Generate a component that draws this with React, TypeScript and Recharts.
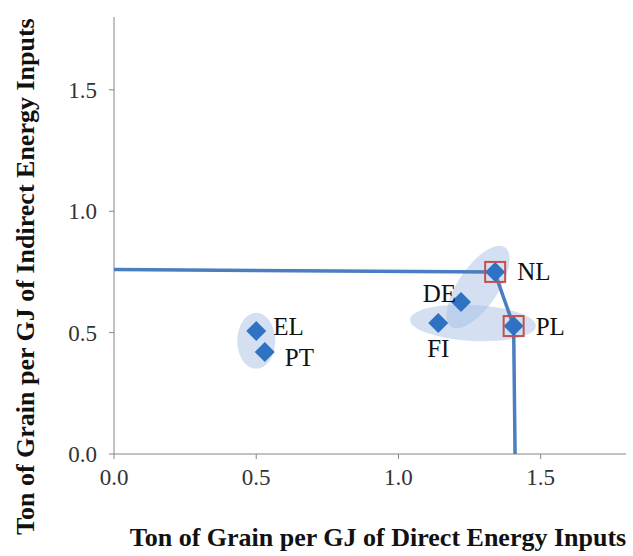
import { ScatterChart, Scatter, XAxis, YAxis, Label } from "recharts";

// countries and their grain output per GJ of direct / indirect energy
const countries = ["EL", "PT", "FI", "DE", "NL", "PL"];
const directEff = [0.5, 0.53, 1.14, 1.22, 1.34, 1.405];
const indirectEff = [0.507, 0.42, 0.54, 0.626, 0.75, 0.527];
const efficient = ["NL", "PL"];

// efficiency frontier
const frontierX = [0, 1.338, 1.405, 1.41];
const frontierY = [0.76, 0.75, 0.527, 0];

// clusters (centre in data units)
const clusterX = [0.5, 1.262, 1.28];
const clusterY = [0.466, 0.54, 0.688];

const xTicks = [0, 0.5, 1, 1.5];
const yTicks = [0, 0.5, 1, 1.5];

const W = 633;
const H = 556;
const FONT = "'Liberation Serif', 'Times New Roman', serif";
const BLUE = "#2f72c4";

// ellipse look (px radii, rotation in degrees)
const clusterStyle = [
  { rx: 19, ry: 28, angle: 0 },
  { rx: 63, ry: 18, angle: 3 },
  { rx: 48, ry: 20, angle: -56 },
];

// label placement next to each marker
const labelPos: Record<string, { dx: number; dy: number; anchor: string }> = {
  EL: { dx: 17, dy: -4, anchor: "start" },
  PT: { dx: 20, dy: 5, anchor: "start" },
  FI: { dx: 0, dy: 26, anchor: "middle" },
  DE: { dx: -5, dy: -9, anchor: "end" },
  NL: { dx: 22, dy: 0, anchor: "start" },
  PL: { dx: 22, dy: 0, anchor: "start" },
};

const points = countries.map((name, i) => ({ name, x: directEff[i], y: indirectEff[i] }));
const framed = points.filter((p) => efficient.includes(p.name));
const frontier = frontierX.map((x, i) => ({ x, y: frontierY[i] }));
const clusters = clusterX.map((x, i) => ({ x, y: clusterY[i], idx: i }));

const Diamond = (props: any) => {
  const { cx, cy, payload } = props;
  const h = 10;
  const lp = labelPos[payload.name];
  return (
    <g>
      <polygon
        points={`${cx},${cy - h} ${cx + h},${cy} ${cx},${cy + h} ${cx - h},${cy}`}
        fill={BLUE}
      />
      <text
        x={cx + lp.dx}
        y={cy + lp.dy}
        textAnchor={lp.anchor as any}
        dominantBaseline="central"
        fontFamily={FONT}
        fontSize={25}
        fill="#111"
      >
        {payload.name}
      </text>
    </g>
  );
};

const Frame = (props: any) => {
  const { cx, cy } = props;
  const s = 10;
  return (
    <rect x={cx - s} y={cy - s} width={2 * s} height={2 * s} fill="none" stroke="#c0504d" strokeWidth={2} />
  );
};

const Blob = (props: any) => {
  const { cx, cy, payload } = props;
  const st = clusterStyle[payload.idx];
  return (
    <ellipse
      cx={cx}
      cy={cy}
      rx={st.rx}
      ry={st.ry}
      transform={`rotate(${st.angle} ${cx} ${cy})`}
      fill="#9fbbe2"
      fillOpacity={0.45}
    />
  );
};

const fmt = (v: number) => v.toFixed(1);

export default function App() {
  return (
    <div style={{ position: "absolute", left: 0, top: 0, width: W, height: H, background: "#fff" }}>
      <ScatterChart width={W} height={H} margin={{ top: 17, right: 7, bottom: 0, left: 0 }}>
        <XAxis
          type="number"
          dataKey="x"
          domain={[0, 1.8]}
          ticks={xTicks}
          tickFormatter={fmt}
          height={102}
          stroke="#868686"
          tickSize={5}
          tickMargin={10}
          tick={{ fill: "#333", fontSize: 23, fontFamily: FONT }}
        >
          <Label
            content={() => (
              <text x={378} y={546} textAnchor="middle" fontFamily={FONT} fontWeight="bold" fontSize={26} fill="#111">
                Ton of Grain per GJ of Direct Energy Inputs
              </text>
            )}
          />
        </XAxis>
        <YAxis
          type="number"
          dataKey="y"
          domain={[0, 1.8]}
          ticks={yTicks}
          tickFormatter={fmt}
          width={114}
          stroke="#868686"
          tickSize={5}
          tickMargin={12}
          tick={{ fill: "#333", fontSize: 23, fontFamily: FONT }}
        >
          <Label
            content={() => (
              <text
                x={0}
                y={0}
                transform="translate(34 535) rotate(-90)"
                textAnchor="start"
                fontFamily={FONT}
                fontWeight="bold"
                fontSize={26}
                fill="#111"
              >
                Ton of Grain per GJ of Indirect  Energy Inputs
              </text>
            )}
          />
        </YAxis>
        <Scatter data={clusters} shape={Blob} isAnimationActive={false} />
        <Scatter
          data={frontier}
          line={{ stroke: "#4a7ebf", strokeWidth: 3.5 }}
          shape={() => <g />}
          isAnimationActive={false}
        />
        <Scatter data={points} shape={Diamond} isAnimationActive={false} />
        <Scatter data={framed} shape={Frame} isAnimationActive={false} />
      </ScatterChart>
    </div>
  );
}
